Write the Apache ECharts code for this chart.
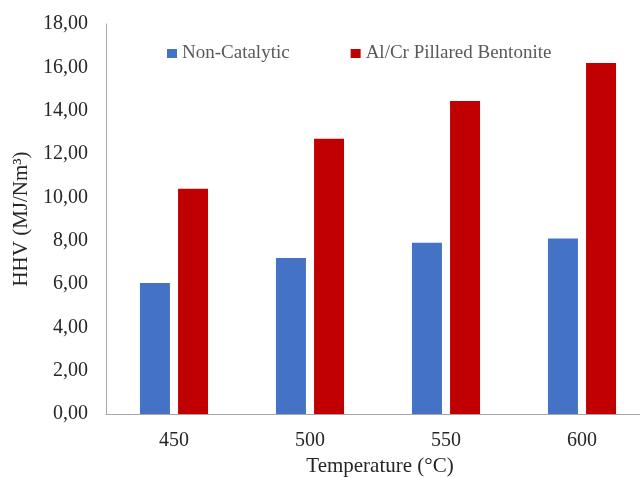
<!DOCTYPE html>
<html>
<head>
<meta charset="utf-8">
<script src="https://cdn.jsdelivr.net/npm/echarts@6/dist/echarts.min.js"></script>
<style>
html, body { margin: 0; padding: 0; background: #fff; }
#chart { width: 640px; height: 477px; }
</style>
</head>
<body>
<div id="chart"></div>
<script>
var categories = ['450', '500', '550', '600'];
var nonCatalytic = [6.05, 7.2, 7.9, 8.1];
var pillared = [10.4, 12.7, 14.45, 16.2];
var seriesNames = ['Non-Catalytic', 'Al/Cr Pillared Bentonite'];

var font = '"Liberation Serif", "Times New Roman", serif';
var chart = echarts.init(document.getElementById('chart'));

var option = {
    backgroundColor: '#fff',
    animation: false,
    legend: {
        left: 162,
        top: 39,
        itemWidth: 10,
        itemHeight: 9,
        itemGap: 61,
        icon: 'rect',
        textStyle: { fontFamily: font, fontSize: 19, color: '#595959' },
        data: seriesNames
    },
    // plot runs past the right edge, as in the reference
    grid: { left: 106, top: 24, right: -10, bottom: 63, outerBoundsMode: 'none' },
    xAxis: {
        type: 'category',
        data: categories,
        name: 'Temperature (°C)',
        nameLocation: 'middle',
        nameGap: 41,
        nameTextStyle: { fontFamily: font, fontSize: 21, color: '#262626', padding: [0, 0, 0, 4] },
        axisLine: { lineStyle: { color: '#a6a6a6', width: 1 } },
        axisTick: { show: false },
        axisLabel: { fontFamily: font, fontSize: 20, color: '#262626', margin: 17 }
    },
    yAxis: {
        type: 'value',
        min: 0,
        max: 18,
        interval: 2,
        name: 'HHV (MJ/Nm³)',
        nameLocation: 'middle',
        nameGap: 68,
        nameTextStyle: { fontFamily: font, fontSize: 21, color: '#262626' },
        axisLine: { show: true, lineStyle: { color: '#a6a6a6', width: 1 } },
        axisTick: { show: false },
        splitLine: { show: false },
        axisLabel: {
            fontFamily: font, fontSize: 20, color: '#262626', margin: 18,
            formatter: function (v) { return v.toFixed(2).replace('.', ','); }
        }
    },
    series: [{
        name: seriesNames[0],
        type: 'bar',
        data: nonCatalytic,
        barWidth: 30,
        barGap: '27%',
        itemStyle: { color: '#4472c4' }
    }, {
        name: seriesNames[1],
        type: 'bar',
        data: pillared,
        barWidth: 30,
        itemStyle: { color: '#c00000' }
    }]
};
chart.setOption(option);
</script>
</body>
</html>
